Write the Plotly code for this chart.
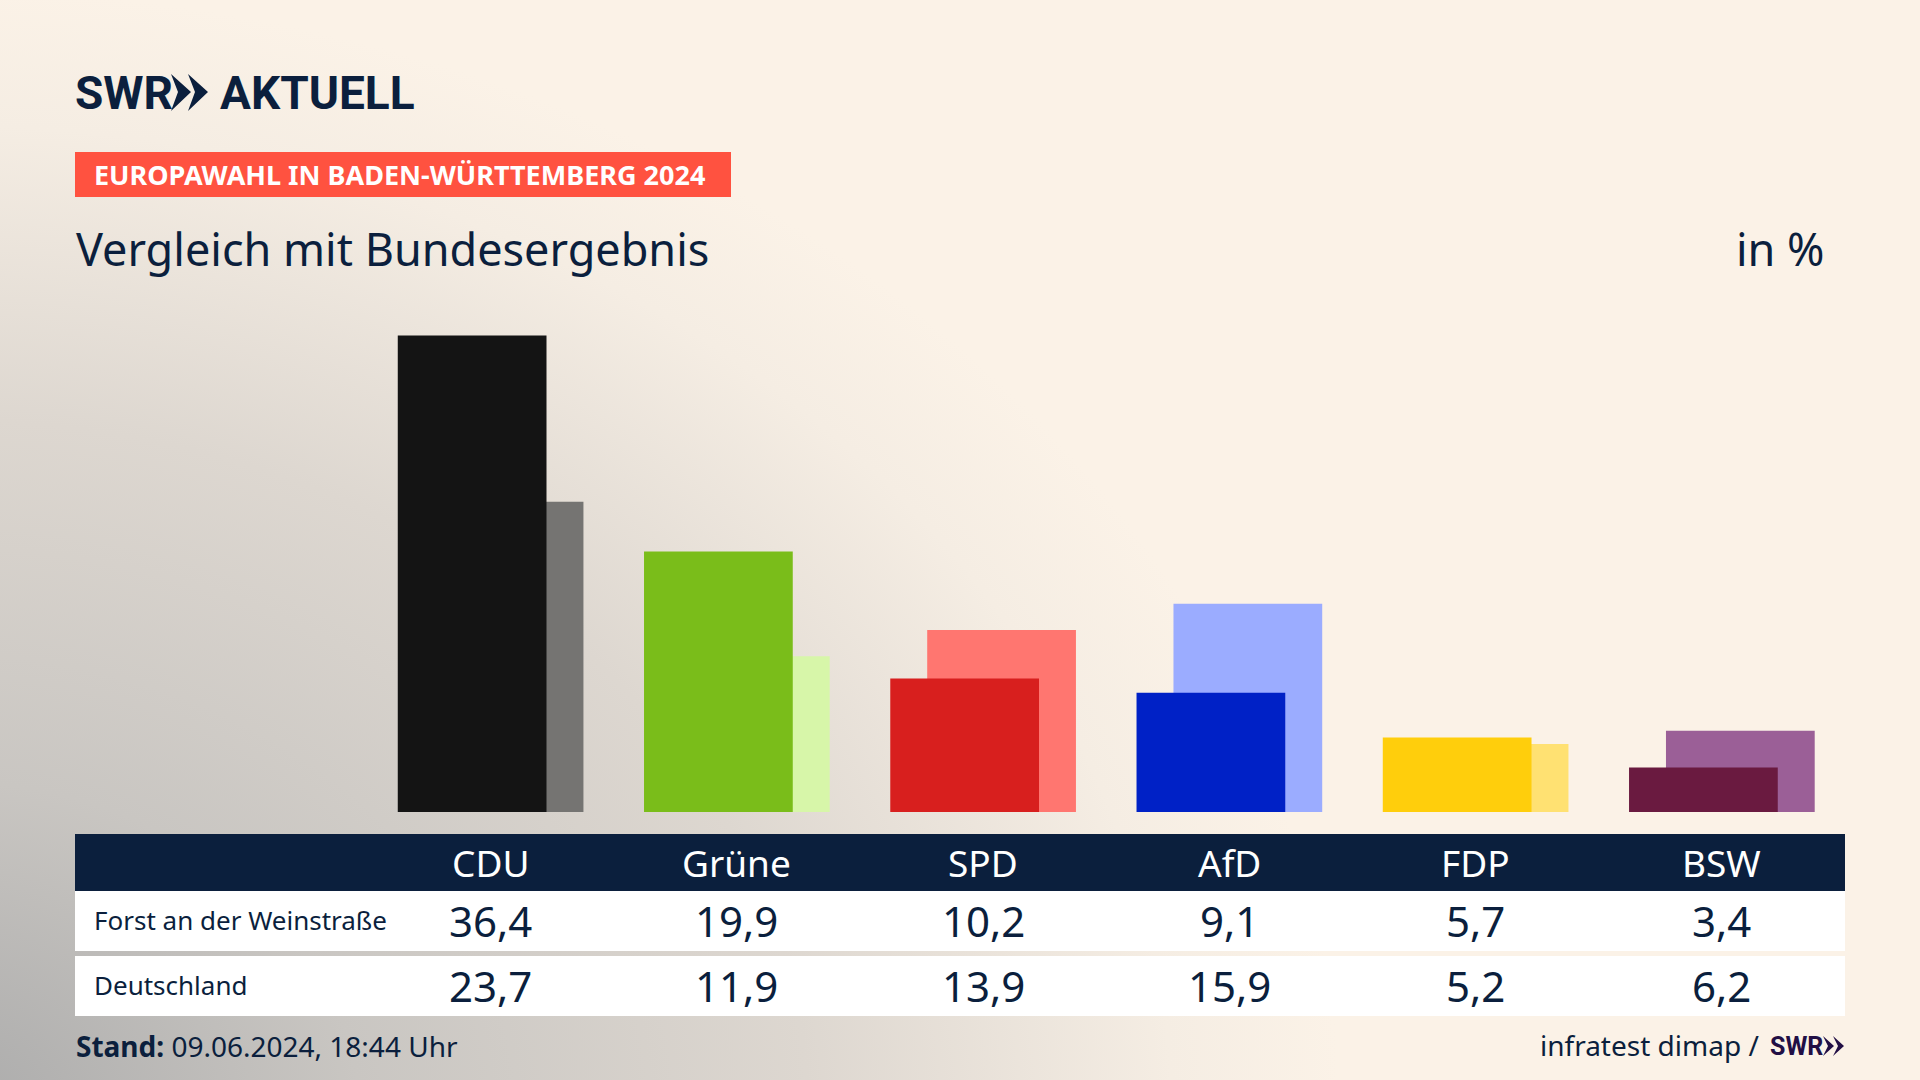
import plotly.express as px
import pandas as pd

parteien = ['CDU', 'Grüne', 'SPD', 'AfD', 'FDP', 'BSW']
forst = [36.4, 19.9, 10.2, 9.1, 5.7, 3.4]
deutschland = [23.7, 11.9, 13.9, 15.9, 5.2, 6.2]
farben_forst = ['#141414', '#7ABD1A', '#D81F1E', '#0021C6', '#FFCE0C', '#6A1A40']
farben_bund = ['#757472', '#D7F6A9', '#FF7670', '#9BACFF', '#FFE172', '#9B5F97']
zeilen = ['Forst an der Weinstraße', 'Deutschland']

NAVY = '#0B1F3D'
FONT = 'Noto Sans'
LOGO = 'Roboto'

df = pd.DataFrame({'partei': parteien * 2,
                   'prozent': deutschland + forst,
                   'gebiet': ['Deutschland'] * 6 + ['Forst'] * 6})
fig = px.bar(df, x='partei', y='prozent', color='gebiet', barmode='overlay')
fig.data[0].update(marker_color=farben_bund, offset=-0.227, width=0.604, marker_line_width=0, marker_opacity=1)
fig.data[1].update(marker_color=farben_forst, offset=-0.377, width=0.604, marker_line_width=0, marker_opacity=1)

#background is a soft grey glow from the lower left corner
svg = ("<svg xmlns='http://www.w3.org/2000/svg' width='1920' height='1080'>"
       "<defs><radialGradient id='g' gradientUnits='userSpaceOnUse' cx='0' cy='0' r='1' "
       "gradientTransform='translate(-60 1120) scale(1400 1130)'>"
       "<stop offset='0' stop-color='%23aaaaaa'/><stop offset='0.3' stop-color='%23c9c6c2'/>"
       "<stop offset='0.62' stop-color='%23ddd7d0'/><stop offset='0.88' stop-color='%23f5ede3'/>"
       "<stop offset='1' stop-color='%23fbf2e7'/></radialGradient></defs>"
       "<rect width='1920' height='1080' fill='%23fbf2e7'/>"
       "<rect width='1920' height='1080' fill='url(%23g)'/></svg>")
fig.add_layout_image(source='data:image/svg+xml,' + svg, xref='paper', yref='paper', x=0, y=1,
                     sizex=1, sizey=1, sizing='stretch', xanchor='left', yanchor='top', layer='below')


def band(x0, y0, x1, y1, farbe):
    fig.add_shape(type='rect', xref='paper', yref='paper', x0=x0 / 1920, x1=x1 / 1920,
                  y0=1 - y0 / 1080, y1=1 - y1 / 1080, fillcolor=farbe, line_width=0, layer='below')


def text(x, y, s, size, farbe=NAVY, anchor='left', font=FONT):
    fig.add_annotation(x=x / 1920, y=1 - y / 1080, xref='paper', yref='paper', text=s, showarrow=False,
                       xanchor=anchor, yanchor='middle', font=dict(family=font, size=size, color=farbe))


def pfeile(punkte, farbe):
    pfad = ' '.join(('M' if i == 0 else 'L') + f' {x / 1920} {1 - y / 1080}' for i, (x, y) in enumerate(punkte)) + ' Z'
    fig.add_shape(type='path', xref='paper', yref='paper', path=pfad, fillcolor=farbe, line_width=0)


band(75, 152, 731, 197, '#FF5240')
band(75, 834, 1845, 891, NAVY)
band(75, 891, 1845, 951, 'white')
band(75, 956, 1845, 1016, 'white')

#logo
text(73, 93, '<b>SWR</b>', 46, font=LOGO)
text(218, 93, '<b>AKTUELL</b>', 46, font=LOGO)
pfeile([(171, 74), (191, 92), (171, 111), (178, 92)], NAVY)
pfeile([(188, 74), (208, 92), (188, 111), (195, 92)], NAVY)

text(92, 175, '<b>EUROPAWAHL IN BADEN-WÜRTTEMBERG 2024</b>', 27, 'white')
text(74, 248, 'Vergleich mit Bundesergebnis', 45)
text(1827, 248, 'in %', 45, anchor='right')

#table
text(92, 920, zeilen[0], 26)
text(92, 985, zeilen[1], 26)
for i, p in enumerate(parteien):
    fig.add_annotation(x=i, y=1 - 862 / 1080, xref='x', yref='paper', text=p, showarrow=False, yanchor='middle',
                       font=dict(family=FONT, size=37, color='white'))
    for y, werte in ((920, forst), (985, deutschland)):
        fig.add_annotation(x=i, y=1 - y / 1080, xref='x', yref='paper', showarrow=False, yanchor='middle',
                           text=f'{werte[i]:.1f}'.replace('.', ','),
                           font=dict(family=FONT, size=42, color=NAVY))

text(74, 1046, '<b>Stand:</b> 09.06.2024, 18:44 Uhr', 28)
text(1761, 1045, 'infratest dimap /', 28, anchor='right')
text(1768, 1046, '<b>SWR</b>', 25, '#220F45', font=LOGO)
pfeile([(1823, 1036), (1834, 1046), (1823, 1056), (1828, 1046)], '#220F45')
pfeile([(1833, 1036), (1844, 1046), (1833, 1056), (1838, 1046)], '#220F45')

fig.update_layout(width=1920, height=1080, margin=dict(l=0, r=0, t=0, b=0), showlegend=False,
                  paper_bgcolor='#FBF2E7', plot_bgcolor='rgba(0,0,0,0)')
fig.update_xaxes(visible=False, domain=[75 / 1920, 1845 / 1920], range=[-1.6877, 5.5])
fig.update_yaxes(visible=False, domain=[268 / 1080, 780 / 1080], range=[0, 39.11])

fig.write_html('out.html', config={'displayModeBar': False},
               post_script="document.body.style.margin='0';document.body.style.overflow='hidden';")
